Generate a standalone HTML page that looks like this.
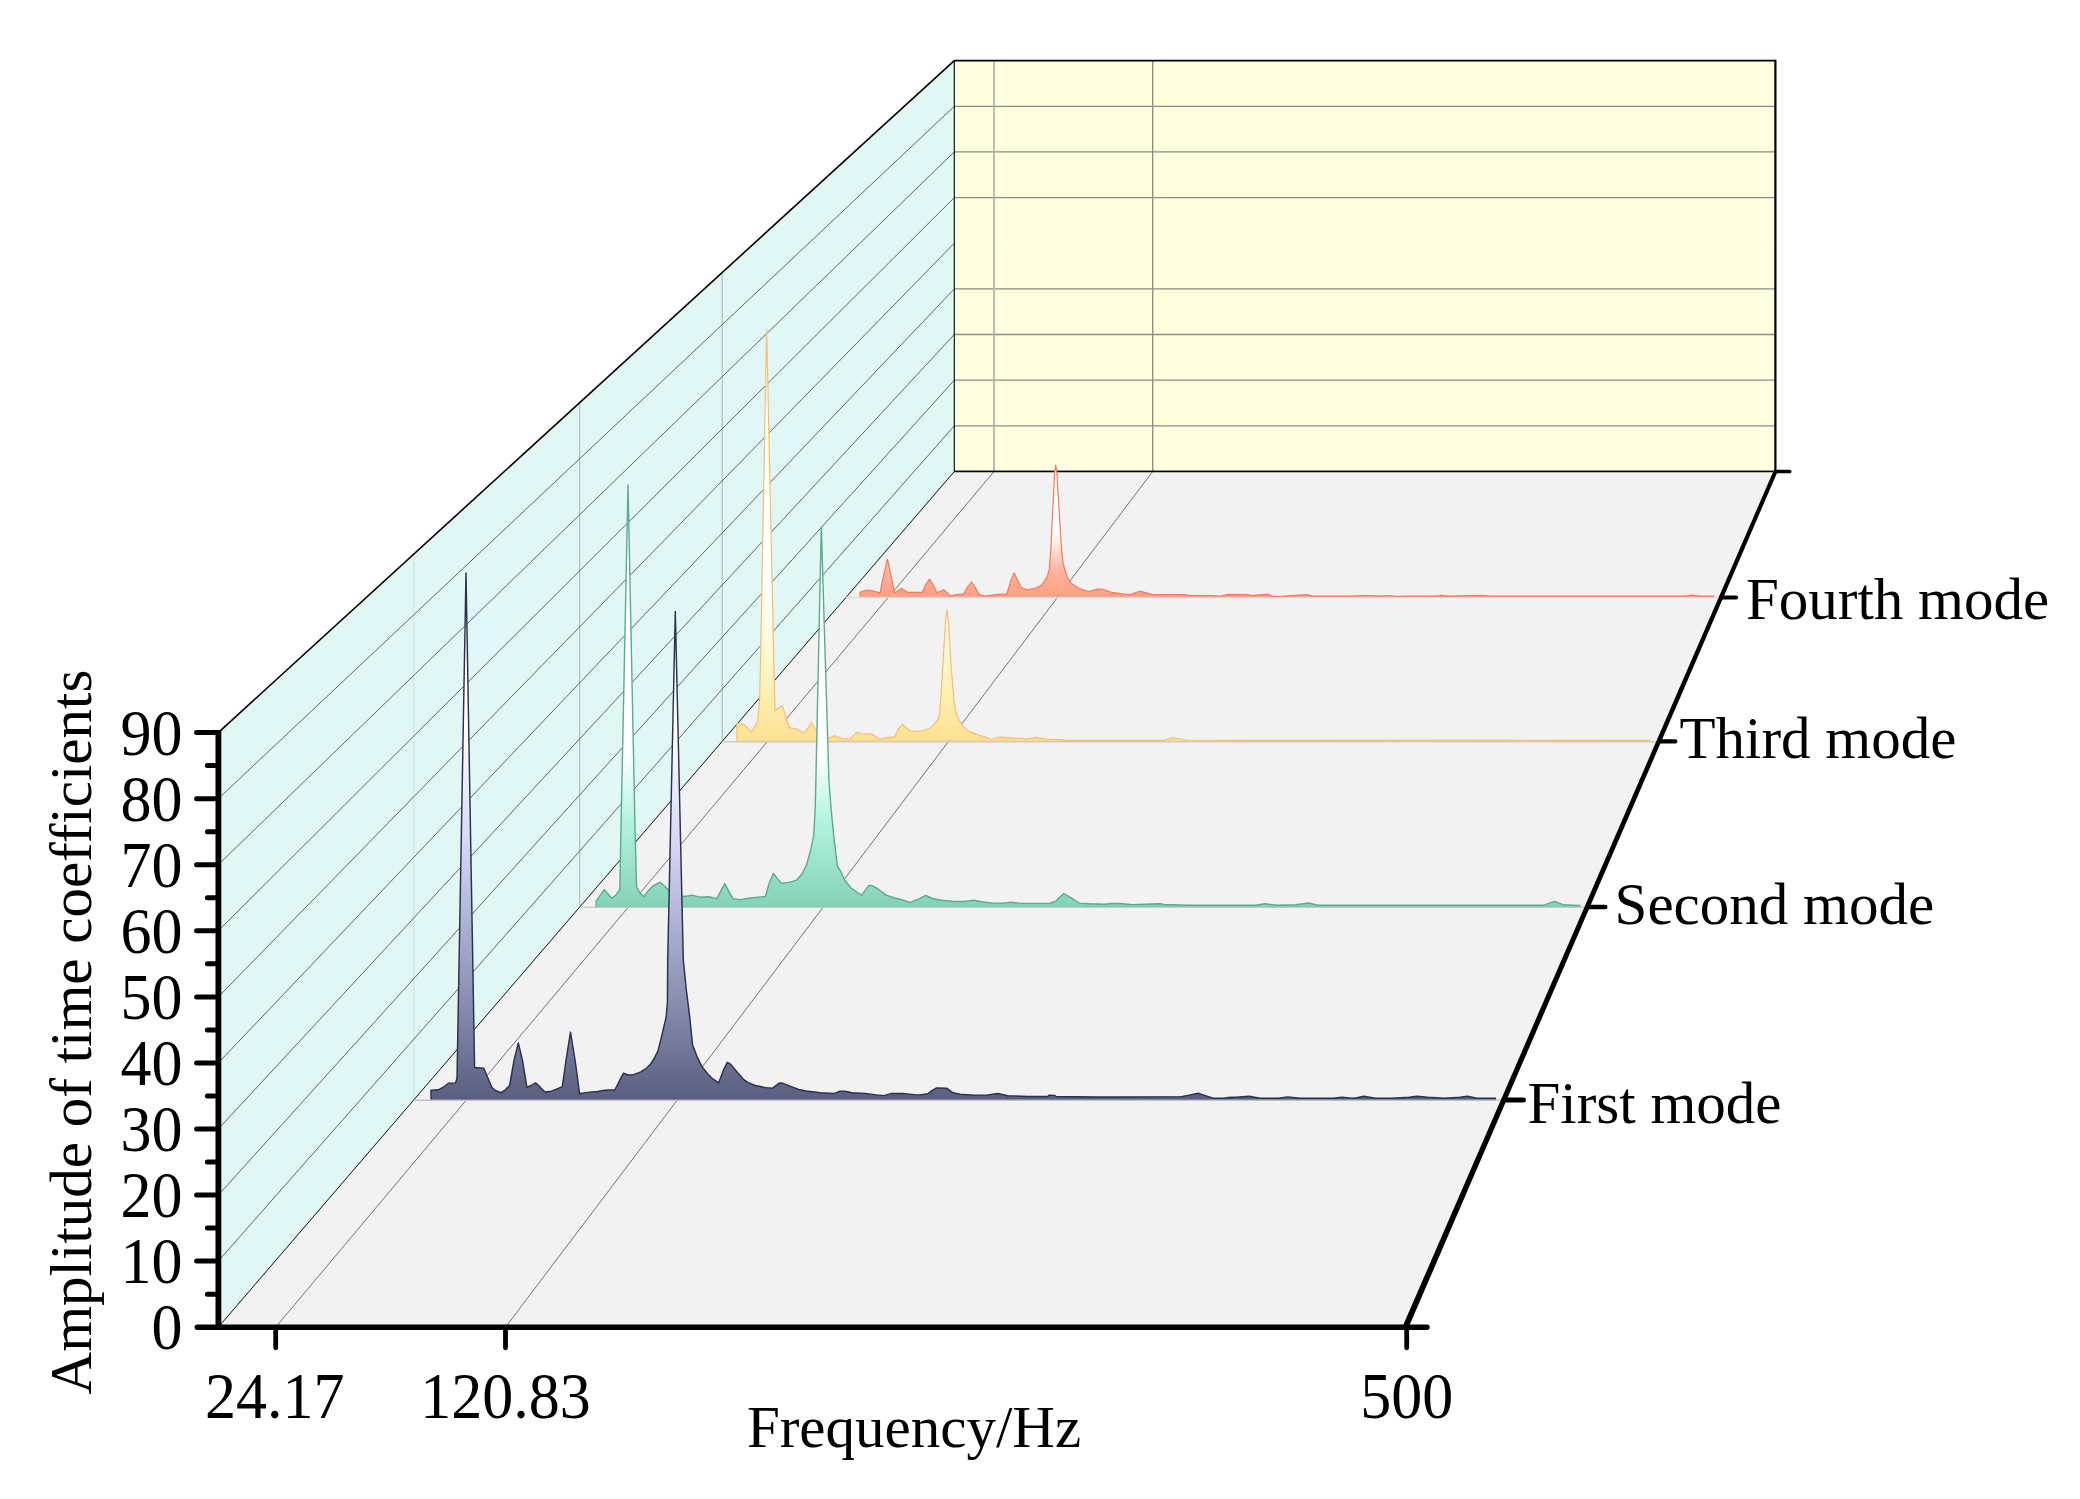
<!DOCTYPE html>
<html lang="en">
<head>
<meta charset="utf-8">
<title>Amplitude of time coefficients - waterfall</title>
<style>html,body{margin:0;padding:0;background:#fff;}svg{display:block;}</style>
</head>
<body>
<svg width="2080" height="1499" viewBox="0 0 2080 1499">
<defs>
<linearGradient id="g1" x1="0" y1="1" x2="0" y2="0">
<stop offset="0" stop-color="#5a5e7f"/>
<stop offset="0.27" stop-color="#9ea2c3"/>
<stop offset="0.5" stop-color="#d8daf7"/>
<stop offset="0.7" stop-color="#ffffff"/>
<stop offset="1" stop-color="#ffffff"/>
</linearGradient>
<linearGradient id="g2" x1="0" y1="1" x2="0" y2="0">
<stop offset="0" stop-color="#84d2b6"/>
<stop offset="0.2" stop-color="#b2f3df"/>
<stop offset="0.36" stop-color="#ffffff"/>
<stop offset="1" stop-color="#ffffff"/>
</linearGradient>
<linearGradient id="g3" x1="0" y1="1" x2="0" y2="0">
<stop offset="0" stop-color="#fde194"/>
<stop offset="0.12" stop-color="#fff0b2"/>
<stop offset="0.25" stop-color="#fffae2"/>
<stop offset="0.4" stop-color="#ffffff"/>
<stop offset="1" stop-color="#ffffff"/>
</linearGradient>
<linearGradient id="g4" x1="0" y1="1" x2="0" y2="0">
<stop offset="0" stop-color="#fd9f84"/>
<stop offset="0.2" stop-color="#fdb4a0"/>
<stop offset="0.36" stop-color="#fee0d6"/>
<stop offset="0.48" stop-color="#ffffff"/>
<stop offset="1" stop-color="#ffffff"/>
</linearGradient>
</defs>
<rect width="2080" height="1499" fill="#ffffff"/>
<polygon points="954.3,60.6 1775.4,60.6 1775.4,471.5 954.3,471.5" fill="#ffffe0"/>
<line x1="954.3" y1="425.8" x2="1775.4" y2="425.8" stroke="#8c8c82" stroke-width="1.3"/>
<line x1="954.3" y1="380.2" x2="1775.4" y2="380.2" stroke="#8c8c82" stroke-width="1.3"/>
<line x1="954.3" y1="334.5" x2="1775.4" y2="334.5" stroke="#8c8c82" stroke-width="1.3"/>
<line x1="954.3" y1="288.9" x2="1775.4" y2="288.9" stroke="#8c8c82" stroke-width="1.3"/>
<line x1="954.3" y1="243.2" x2="1775.4" y2="243.2" stroke="#fafae4" stroke-width="1.3"/>
<line x1="954.3" y1="197.6" x2="1775.4" y2="197.6" stroke="#8c8c82" stroke-width="1.3"/>
<line x1="954.3" y1="151.9" x2="1775.4" y2="151.9" stroke="#8c8c82" stroke-width="1.3"/>
<line x1="954.3" y1="106.3" x2="1775.4" y2="106.3" stroke="#8c8c82" stroke-width="1.3"/>
<line x1="994.0" y1="471.5" x2="994.0" y2="60.6" stroke="#b4b4aa" stroke-width="1.8"/>
<line x1="1152.7" y1="471.5" x2="1152.7" y2="60.6" stroke="#909088" stroke-width="1.4"/>
<line x1="954.3" y1="60.6" x2="1775.4" y2="60.6" stroke="#000" stroke-width="1.6"/>
<line x1="954.3" y1="471.5" x2="1775.4" y2="471.5" stroke="#000" stroke-width="1.4"/>
<line x1="1775.4" y1="59.8" x2="1775.4" y2="471.5" stroke="#000" stroke-width="2.2"/>
<polygon points="218.3,1327.2 218.3,732.6 954.3,60.6 954.3,471.5" fill="#e1f7f5"/>
<line x1="413.8" y1="1099.9" x2="413.8" y2="554.1" stroke="#cde2e2" stroke-width="1.1"/>
<line x1="579.7" y1="907.0" x2="579.7" y2="402.6" stroke="#a9bcbc" stroke-width="1.1"/>
<line x1="722.2" y1="741.4" x2="722.2" y2="272.6" stroke="#a9bcbc" stroke-width="1.1"/>
<line x1="218.3" y1="1261.1" x2="954.3" y2="425.8" stroke="#4e5858" stroke-width="0.9"/>
<line x1="218.3" y1="1195.1" x2="954.3" y2="380.2" stroke="#4e5858" stroke-width="0.9"/>
<line x1="218.3" y1="1129.0" x2="954.3" y2="334.5" stroke="#4e5858" stroke-width="0.9"/>
<line x1="218.3" y1="1062.9" x2="954.3" y2="288.9" stroke="#4e5858" stroke-width="0.9"/>
<line x1="218.3" y1="996.9" x2="954.3" y2="243.2" stroke="#4e5858" stroke-width="0.9"/>
<line x1="218.3" y1="930.8" x2="954.3" y2="197.6" stroke="#4e5858" stroke-width="0.9"/>
<line x1="218.3" y1="864.7" x2="954.3" y2="151.9" stroke="#4e5858" stroke-width="0.9"/>
<line x1="218.3" y1="798.7" x2="954.3" y2="106.3" stroke="#4e5858" stroke-width="0.9"/>
<line x1="218.3" y1="732.6" x2="954.3" y2="60.6" stroke="#000" stroke-width="1.6"/>
<line x1="954.3" y1="60.6" x2="954.3" y2="471.5" stroke="#000" stroke-width="1.1"/>
<polygon points="218.3,1327.2 954.3,471.5 1775.4,471.5 1406.7,1327.2" fill="#f2f2f2"/>
<line x1="218.3" y1="1327.2" x2="954.3" y2="471.5" stroke="#000" stroke-width="0.95"/>
<line x1="275.7" y1="1327.2" x2="994.0" y2="471.5" stroke="#646464" stroke-width="0.9"/>
<line x1="505.5" y1="1327.2" x2="1152.7" y2="471.5" stroke="#646464" stroke-width="0.9"/>
<line x1="954.3" y1="471.5" x2="1775.4" y2="471.5" stroke="#000" stroke-width="1.4"/>
<line x1="845.9" y1="597.5" x2="1721.1" y2="597.5" stroke="#e6dfdf" stroke-width="1.4"/>
<polygon points="860.0,596.6 860.0,592.3 866.9,590.0 874.6,591.2 880.0,593.1 883.1,577.7 887.4,559.2 891.5,577.7 894.6,593.1 901.5,588.5 907.7,592.3 922.3,592.3 926.2,583.8 929.7,579.2 933.4,585.4 936.9,592.8 943.8,589.7 950.8,596.2 956.2,594.6 963.8,593.8 967.7,586.9 971.5,582.0 975.4,587.7 979.2,594.6 985.4,596.2 996.2,594.6 1006.9,593.8 1010.8,580.8 1014.2,573.1 1018.5,582.3 1021.5,587.7 1027.7,589.7 1034.6,588.5 1041.5,585.4 1046.9,577.7 1049.2,570.0 1050.8,550.0 1053.1,503.8 1054.6,473.1 1055.7,465.1 1056.9,473.1 1059.2,511.5 1061.5,550.0 1063.1,563.8 1066.9,576.2 1071.5,583.8 1079.2,588.5 1088.5,591.5 1097.7,589.2 1102.3,589.2 1111.5,592.3 1122.3,593.8 1130.0,594.6 1140.0,591.2 1151.5,594.3 1185.4,594.6 1189.2,595.7 1210.0,595.7 1220.8,596.2 1228.5,594.3 1246.9,594.6 1253.1,595.7 1260.8,594.6 1268.5,594.3 1272.3,596.5 1283.8,596.2 1291.5,595.7 1306.9,594.6 1313.1,596.2 1353.1,596.2 1357.7,595.5 1370.0,595.5 1379.2,596.2 1390.0,595.5 1397.7,596.5 1403.8,596.2 1434.6,596.2 1440.8,595.5 1450.0,596.2 1440.0,595.4 1448.5,596.2 1480.8,595.4 1491.5,596.2 1683.8,596.2 1691.5,595.2 1700.8,596.2 1713.8,596.2 1713.8,596.6" fill="url(#g4)"/>
<polyline points="860.0,596.6 860.0,592.3 866.9,590.0 874.6,591.2 880.0,593.1 883.1,577.7 887.4,559.2 891.5,577.7 894.6,593.1 901.5,588.5 907.7,592.3 922.3,592.3 926.2,583.8 929.7,579.2 933.4,585.4 936.9,592.8 943.8,589.7 950.8,596.2 956.2,594.6 963.8,593.8 967.7,586.9 971.5,582.0 975.4,587.7 979.2,594.6 985.4,596.2 996.2,594.6 1006.9,593.8 1010.8,580.8 1014.2,573.1 1018.5,582.3 1021.5,587.7 1027.7,589.7 1034.6,588.5 1041.5,585.4 1046.9,577.7 1049.2,570.0 1050.8,550.0 1053.1,503.8 1054.6,473.1 1055.7,465.1 1056.9,473.1 1059.2,511.5 1061.5,550.0 1063.1,563.8 1066.9,576.2 1071.5,583.8 1079.2,588.5 1088.5,591.5 1097.7,589.2 1102.3,589.2 1111.5,592.3 1122.3,593.8 1130.0,594.6 1140.0,591.2 1151.5,594.3 1185.4,594.6 1189.2,595.7 1210.0,595.7 1220.8,596.2 1228.5,594.3 1246.9,594.6 1253.1,595.7 1260.8,594.6 1268.5,594.3 1272.3,596.5 1283.8,596.2 1291.5,595.7 1306.9,594.6 1313.1,596.2 1353.1,596.2 1357.7,595.5 1370.0,595.5 1379.2,596.2 1390.0,595.5 1397.7,596.5 1403.8,596.2 1434.6,596.2 1440.8,595.5 1450.0,596.2 1440.0,595.4 1448.5,596.2 1480.8,595.4 1491.5,596.2 1683.8,596.2 1691.5,595.2 1700.8,596.2 1713.8,596.2 1713.8,596.6" fill="none" stroke="#f7775a" stroke-width="1.2" stroke-linejoin="round"/>
<line x1="860.0" y1="596.6" x2="1713.8" y2="596.6" stroke="#f7775a" stroke-width="0.8" stroke-opacity="0.55"/>
<line x1="722.2" y1="741.7" x2="1659.1" y2="741.7" stroke="#d0ccc4" stroke-width="1.4"/>
<polygon points="736.9,740.8 736.9,723.1 744.6,724.9 751.5,732.3 757.7,721.5 759.7,698.5 760.8,646.2 766.6,329.5 773.5,646.2 774.9,710.8 782.3,705.4 789.2,727.7 796.9,729.2 804.6,733.1 811.5,722.6 816.2,730.8 821.5,736.9 827.7,738.5 834.6,735.7 843.1,738.9 850.0,739.2 856.9,732.3 863.1,734.2 872.3,734.2 879.2,739.2 886.9,737.7 894.6,736.9 898.5,729.2 902.3,724.3 909.2,730.5 915.4,731.5 923.1,730.8 930.8,727.7 935.4,723.1 939.2,716.9 940.8,700.0 943.1,661.5 945.4,623.1 946.9,609.5 948.5,623.1 950.8,661.5 953.8,700.0 956.2,713.8 961.5,724.6 967.7,730.8 976.9,734.6 984.6,736.9 990.8,739.5 998.5,737.2 1007.7,737.7 1020.0,738.5 1020.0,738.2 1026.2,739.2 1036.2,737.4 1044.6,739.2 1061.5,739.7 1064.6,740.3 1164.6,740.3 1171.5,737.7 1186.2,740.0 1261.5,740.3 1320.0,740.3 1500.0,740.2 1650.0,740.4 1650.0,740.8" fill="url(#g3)"/>
<polyline points="736.9,740.8 736.9,723.1 744.6,724.9 751.5,732.3 757.7,721.5 759.7,698.5 760.8,646.2 766.6,329.5 773.5,646.2 774.9,710.8 782.3,705.4 789.2,727.7 796.9,729.2 804.6,733.1 811.5,722.6 816.2,730.8 821.5,736.9 827.7,738.5 834.6,735.7 843.1,738.9 850.0,739.2 856.9,732.3 863.1,734.2 872.3,734.2 879.2,739.2 886.9,737.7 894.6,736.9 898.5,729.2 902.3,724.3 909.2,730.5 915.4,731.5 923.1,730.8 930.8,727.7 935.4,723.1 939.2,716.9 940.8,700.0 943.1,661.5 945.4,623.1 946.9,609.5 948.5,623.1 950.8,661.5 953.8,700.0 956.2,713.8 961.5,724.6 967.7,730.8 976.9,734.6 984.6,736.9 990.8,739.5 998.5,737.2 1007.7,737.7 1020.0,738.5 1020.0,738.2 1026.2,739.2 1036.2,737.4 1044.6,739.2 1061.5,739.7 1064.6,740.3 1164.6,740.3 1171.5,737.7 1186.2,740.0 1261.5,740.3 1320.0,740.3 1500.0,740.2 1650.0,740.4 1650.0,740.8" fill="none" stroke="#f5be6e" stroke-width="1.2" stroke-linejoin="round"/>
<line x1="736.9" y1="740.8" x2="1650.0" y2="740.8" stroke="#f5be6e" stroke-width="0.8" stroke-opacity="0.55"/>
<line x1="579.7" y1="907.3" x2="1587.8" y2="907.3" stroke="#c4cccb" stroke-width="1.4"/>
<polygon points="596.2,906.4 596.2,901.2 604.3,889.6 611.8,898.3 616.2,894.7 619.8,889.6 620.5,852.1 628.0,485.0 635.2,837.7 636.6,886.7 639.2,891.8 643.8,896.8 647.9,891.1 652.9,886.0 660.1,882.4 665.2,886.7 669.5,891.1 676.7,895.4 684.7,896.5 691.9,895.1 699.8,897.1 708.5,896.8 717.1,898.6 720.7,891.1 724.8,883.6 728.7,891.1 733.0,898.6 740.2,899.7 750.3,898.0 765.4,896.5 769.0,883.8 773.4,873.5 777.0,878.1 781.3,883.1 789.2,882.4 796.4,880.2 802.2,873.8 806.5,865.1 810.9,849.2 813.8,834.8 815.2,808.8 815.9,780.0 821.3,527.0 828.9,780.0 831.1,808.8 833.9,837.7 837.5,866.5 840.0,870.0 844.6,880.0 850.8,887.7 861.5,895.4 868.5,885.8 871.5,885.4 878.5,889.2 886.2,895.1 893.8,897.7 901.5,899.7 910.0,902.3 918.5,899.2 925.8,895.4 932.3,898.5 941.5,900.3 953.8,901.5 964.6,901.5 973.8,900.3 981.5,901.8 992.3,903.1 1003.1,903.1 1010.8,902.3 1021.5,903.4 1049.2,903.4 1055.4,901.5 1060.0,896.9 1063.8,893.5 1070.8,897.7 1079.2,903.1 1089.2,903.8 1104.6,904.3 1110.8,903.5 1120.0,903.5 1132.3,904.6 1144.6,904.2 1160.0,903.8 1164.0,904.5 1188.1,905.2 1255.4,905.2 1265.0,903.8 1277.0,905.2 1296.2,904.7 1308.3,903.0 1317.9,905.2 1428.5,905.2 1543.8,905.2 1554.7,901.3 1563.1,904.7 1579.9,905.4 1579.9,906.4" fill="url(#g2)"/>
<polyline points="596.2,906.4 596.2,901.2 604.3,889.6 611.8,898.3 616.2,894.7 619.8,889.6 620.5,852.1 628.0,485.0 635.2,837.7 636.6,886.7 639.2,891.8 643.8,896.8 647.9,891.1 652.9,886.0 660.1,882.4 665.2,886.7 669.5,891.1 676.7,895.4 684.7,896.5 691.9,895.1 699.8,897.1 708.5,896.8 717.1,898.6 720.7,891.1 724.8,883.6 728.7,891.1 733.0,898.6 740.2,899.7 750.3,898.0 765.4,896.5 769.0,883.8 773.4,873.5 777.0,878.1 781.3,883.1 789.2,882.4 796.4,880.2 802.2,873.8 806.5,865.1 810.9,849.2 813.8,834.8 815.2,808.8 815.9,780.0 821.3,527.0 828.9,780.0 831.1,808.8 833.9,837.7 837.5,866.5 840.0,870.0 844.6,880.0 850.8,887.7 861.5,895.4 868.5,885.8 871.5,885.4 878.5,889.2 886.2,895.1 893.8,897.7 901.5,899.7 910.0,902.3 918.5,899.2 925.8,895.4 932.3,898.5 941.5,900.3 953.8,901.5 964.6,901.5 973.8,900.3 981.5,901.8 992.3,903.1 1003.1,903.1 1010.8,902.3 1021.5,903.4 1049.2,903.4 1055.4,901.5 1060.0,896.9 1063.8,893.5 1070.8,897.7 1079.2,903.1 1089.2,903.8 1104.6,904.3 1110.8,903.5 1120.0,903.5 1132.3,904.6 1144.6,904.2 1160.0,903.8 1164.0,904.5 1188.1,905.2 1255.4,905.2 1265.0,903.8 1277.0,905.2 1296.2,904.7 1308.3,903.0 1317.9,905.2 1428.5,905.2 1543.8,905.2 1554.7,901.3 1563.1,904.7 1579.9,905.4 1579.9,906.4" fill="none" stroke="#5caa90" stroke-width="1.4" stroke-linejoin="round"/>
<line x1="596.2" y1="906.4" x2="1579.9" y2="906.4" stroke="#5caa90" stroke-width="0.8" stroke-opacity="0.55"/>
<line x1="413.8" y1="1100.2" x2="1504.7" y2="1100.2" stroke="#c2c2c6" stroke-width="1.4"/>
<polygon points="431.0,1099.3 431.0,1090.2 438.2,1089.8 443.3,1087.2 448.3,1083.3 455.5,1082.9 457.0,1078.3 466.0,573.0 474.6,1067.5 483.7,1068.2 487.3,1076.8 491.6,1086.9 495.2,1090.5 501.0,1092.7 505.3,1089.8 509.6,1085.5 513.9,1061.0 518.3,1042.9 522.6,1061.0 526.9,1087.2 531.2,1085.5 535.6,1082.9 539.9,1086.9 545.0,1092.0 551.4,1091.2 557.2,1088.8 562.3,1086.6 565.9,1061.0 570.5,1032.1 575.2,1061.0 579.6,1093.8 587.5,1092.4 597.6,1091.5 604.8,1090.2 614.9,1089.8 619.2,1081.2 623.6,1073.2 627.9,1075.0 633.7,1074.7 640.9,1071.8 642.9,1070.3 645.8,1068.9 650.8,1063.8 655.1,1056.6 658.0,1050.9 661.6,1036.4 666.0,1017.7 667.4,1003.3 667.7,960.0 675.3,611.5 683.3,960.0 686.2,988.8 689.8,1017.7 692.6,1045.1 697.0,1056.6 702.0,1066.7 707.8,1073.9 712.1,1078.3 718.6,1082.9 723.7,1069.6 727.3,1062.4 730.1,1063.8 738.1,1073.2 743.8,1079.7 748.2,1082.6 755.4,1085.5 765.5,1087.6 772.7,1088.1 779.2,1083.0 782.8,1083.3 790.0,1086.2 798.7,1089.5 805.9,1091.0 820.3,1092.7 834.7,1093.4 839.8,1091.2 844.8,1091.2 852.0,1092.7 865.0,1093.4 876.5,1094.9 883.8,1095.6 891.7,1093.4 902.5,1093.4 914.0,1094.6 921.2,1094.9 920.0,1094.9 927.7,1093.8 931.5,1090.8 936.2,1088.0 946.9,1088.3 953.1,1092.8 960.0,1094.2 973.8,1095.1 987.7,1094.9 997.7,1093.5 1007.7,1095.7 1027.7,1096.5 1047.7,1096.5 1049.2,1095.1 1054.6,1095.4 1056.2,1096.5 1096.9,1096.9 1181.5,1096.6 1189.2,1095.1 1198.2,1093.2 1204.6,1095.4 1213.1,1098.2 1224.6,1098.2 1227.7,1097.4 1240.0,1096.9 1229.2,1097.8 1249.2,1096.3 1260.0,1098.2 1278.5,1098.2 1287.7,1096.9 1300.0,1098.2 1333.8,1098.2 1341.5,1097.1 1352.3,1098.2 1356.9,1097.8 1363.8,1096.3 1375.4,1098.2 1392.3,1098.2 1409.2,1097.2 1416.9,1096.3 1427.7,1097.2 1444.6,1098.2 1460.0,1097.2 1467.7,1096.3 1476.9,1098.2 1495.4,1098.3 1495.4,1099.3" fill="url(#g1)"/>
<polyline points="431.0,1099.3 431.0,1090.2 438.2,1089.8 443.3,1087.2 448.3,1083.3 455.5,1082.9 457.0,1078.3 466.0,573.0 474.6,1067.5 483.7,1068.2 487.3,1076.8 491.6,1086.9 495.2,1090.5 501.0,1092.7 505.3,1089.8 509.6,1085.5 513.9,1061.0 518.3,1042.9 522.6,1061.0 526.9,1087.2 531.2,1085.5 535.6,1082.9 539.9,1086.9 545.0,1092.0 551.4,1091.2 557.2,1088.8 562.3,1086.6 565.9,1061.0 570.5,1032.1 575.2,1061.0 579.6,1093.8 587.5,1092.4 597.6,1091.5 604.8,1090.2 614.9,1089.8 619.2,1081.2 623.6,1073.2 627.9,1075.0 633.7,1074.7 640.9,1071.8 642.9,1070.3 645.8,1068.9 650.8,1063.8 655.1,1056.6 658.0,1050.9 661.6,1036.4 666.0,1017.7 667.4,1003.3 667.7,960.0 675.3,611.5 683.3,960.0 686.2,988.8 689.8,1017.7 692.6,1045.1 697.0,1056.6 702.0,1066.7 707.8,1073.9 712.1,1078.3 718.6,1082.9 723.7,1069.6 727.3,1062.4 730.1,1063.8 738.1,1073.2 743.8,1079.7 748.2,1082.6 755.4,1085.5 765.5,1087.6 772.7,1088.1 779.2,1083.0 782.8,1083.3 790.0,1086.2 798.7,1089.5 805.9,1091.0 820.3,1092.7 834.7,1093.4 839.8,1091.2 844.8,1091.2 852.0,1092.7 865.0,1093.4 876.5,1094.9 883.8,1095.6 891.7,1093.4 902.5,1093.4 914.0,1094.6 921.2,1094.9 920.0,1094.9 927.7,1093.8 931.5,1090.8 936.2,1088.0 946.9,1088.3 953.1,1092.8 960.0,1094.2 973.8,1095.1 987.7,1094.9 997.7,1093.5 1007.7,1095.7 1027.7,1096.5 1047.7,1096.5 1049.2,1095.1 1054.6,1095.4 1056.2,1096.5 1096.9,1096.9 1181.5,1096.6 1189.2,1095.1 1198.2,1093.2 1204.6,1095.4 1213.1,1098.2 1224.6,1098.2 1227.7,1097.4 1240.0,1096.9 1229.2,1097.8 1249.2,1096.3 1260.0,1098.2 1278.5,1098.2 1287.7,1096.9 1300.0,1098.2 1333.8,1098.2 1341.5,1097.1 1352.3,1098.2 1356.9,1097.8 1363.8,1096.3 1375.4,1098.2 1392.3,1098.2 1409.2,1097.2 1416.9,1096.3 1427.7,1097.2 1444.6,1098.2 1460.0,1097.2 1467.7,1096.3 1476.9,1098.2 1495.4,1098.3 1495.4,1099.3" fill="none" stroke="#2b3050" stroke-width="1.45" stroke-linejoin="round"/>
<line x1="431.0" y1="1099.3" x2="1495.4" y2="1099.3" stroke="#2b3050" stroke-width="0.8" stroke-opacity="0.55"/>
<line x1="218.4" y1="730.4" x2="218.4" y2="1329.9" stroke="#000" stroke-width="5.8"/>
<line x1="207.4" y1="1294.2" x2="218.3" y2="1294.2" stroke="#000" stroke-width="5.0" stroke-linecap="round"/>
<line x1="196.6" y1="1261.1" x2="218.3" y2="1261.1" stroke="#000" stroke-width="5.0" stroke-linecap="round"/>
<line x1="207.4" y1="1228.1" x2="218.3" y2="1228.1" stroke="#000" stroke-width="5.0" stroke-linecap="round"/>
<line x1="196.6" y1="1195.1" x2="218.3" y2="1195.1" stroke="#000" stroke-width="5.0" stroke-linecap="round"/>
<line x1="207.4" y1="1162.0" x2="218.3" y2="1162.0" stroke="#000" stroke-width="5.0" stroke-linecap="round"/>
<line x1="196.6" y1="1129.0" x2="218.3" y2="1129.0" stroke="#000" stroke-width="5.0" stroke-linecap="round"/>
<line x1="207.4" y1="1096.0" x2="218.3" y2="1096.0" stroke="#000" stroke-width="5.0" stroke-linecap="round"/>
<line x1="196.6" y1="1062.9" x2="218.3" y2="1062.9" stroke="#000" stroke-width="5.0" stroke-linecap="round"/>
<line x1="207.4" y1="1029.9" x2="218.3" y2="1029.9" stroke="#000" stroke-width="5.0" stroke-linecap="round"/>
<line x1="196.6" y1="996.9" x2="218.3" y2="996.9" stroke="#000" stroke-width="5.0" stroke-linecap="round"/>
<line x1="207.4" y1="963.8" x2="218.3" y2="963.8" stroke="#000" stroke-width="5.0" stroke-linecap="round"/>
<line x1="196.6" y1="930.8" x2="218.3" y2="930.8" stroke="#000" stroke-width="5.0" stroke-linecap="round"/>
<line x1="207.4" y1="897.8" x2="218.3" y2="897.8" stroke="#000" stroke-width="5.0" stroke-linecap="round"/>
<line x1="196.6" y1="864.7" x2="218.3" y2="864.7" stroke="#000" stroke-width="5.0" stroke-linecap="round"/>
<line x1="207.4" y1="831.7" x2="218.3" y2="831.7" stroke="#000" stroke-width="5.0" stroke-linecap="round"/>
<line x1="196.6" y1="798.7" x2="218.3" y2="798.7" stroke="#000" stroke-width="5.0" stroke-linecap="round"/>
<line x1="207.4" y1="765.6" x2="218.3" y2="765.6" stroke="#000" stroke-width="5.0" stroke-linecap="round"/>
<line x1="196.6" y1="732.6" x2="218.3" y2="732.6" stroke="#000" stroke-width="5.0" stroke-linecap="round"/>
<line x1="197.3" y1="1327.2" x2="1427.0" y2="1327.2" stroke="#000" stroke-width="5.4" stroke-linecap="round"/>
<line x1="275.7" y1="1327.2" x2="275.7" y2="1347.8" stroke="#000" stroke-width="4.8" stroke-linecap="round"/>
<line x1="505.5" y1="1327.2" x2="505.5" y2="1347.8" stroke="#000" stroke-width="4.8" stroke-linecap="round"/>
<line x1="1406.7" y1="1327.2" x2="1406.7" y2="1347.8" stroke="#000" stroke-width="4.8" stroke-linecap="round"/>
<polygon points="1408.2,1328.3 1777.3,472.3 1773.6,470.7 1402.8,1326.1" fill="#000"/>
<line x1="1504.7" y1="1099.9" x2="1523.5" y2="1099.9" stroke="#000" stroke-width="5.0" stroke-linecap="round"/>
<line x1="1587.8" y1="907.0" x2="1605.2" y2="907.0" stroke="#000" stroke-width="4.6" stroke-linecap="round"/>
<line x1="1659.1" y1="741.4" x2="1675.3" y2="741.4" stroke="#000" stroke-width="4.3" stroke-linecap="round"/>
<line x1="1721.1" y1="597.5" x2="1736.2" y2="597.5" stroke="#000" stroke-width="4.0" stroke-linecap="round"/>
<line x1="1775.4" y1="471.5" x2="1789.6" y2="471.5" stroke="#000" stroke-width="3.7" stroke-linecap="round"/>
<text transform="translate(182.5,1349.2) scale(1,1.06)" font-size="62" text-anchor="end" font-family="'Liberation Serif',serif" style="font-variant-ligatures:none" fill="#000">0</text>
<text transform="translate(182.5,1283.1) scale(1,1.06)" font-size="62" text-anchor="end" font-family="'Liberation Serif',serif" style="font-variant-ligatures:none" fill="#000">10</text>
<text transform="translate(182.5,1217.1) scale(1,1.06)" font-size="62" text-anchor="end" font-family="'Liberation Serif',serif" style="font-variant-ligatures:none" fill="#000">20</text>
<text transform="translate(182.5,1151.0) scale(1,1.06)" font-size="62" text-anchor="end" font-family="'Liberation Serif',serif" style="font-variant-ligatures:none" fill="#000">30</text>
<text transform="translate(182.5,1084.9) scale(1,1.06)" font-size="62" text-anchor="end" font-family="'Liberation Serif',serif" style="font-variant-ligatures:none" fill="#000">40</text>
<text transform="translate(182.5,1018.9) scale(1,1.06)" font-size="62" text-anchor="end" font-family="'Liberation Serif',serif" style="font-variant-ligatures:none" fill="#000">50</text>
<text transform="translate(182.5,952.8) scale(1,1.06)" font-size="62" text-anchor="end" font-family="'Liberation Serif',serif" style="font-variant-ligatures:none" fill="#000">60</text>
<text transform="translate(182.5,886.7) scale(1,1.06)" font-size="62" text-anchor="end" font-family="'Liberation Serif',serif" style="font-variant-ligatures:none" fill="#000">70</text>
<text transform="translate(182.5,820.7) scale(1,1.06)" font-size="62" text-anchor="end" font-family="'Liberation Serif',serif" style="font-variant-ligatures:none" fill="#000">80</text>
<text transform="translate(182.5,754.6) scale(1,1.06)" font-size="62" text-anchor="end" font-family="'Liberation Serif',serif" style="font-variant-ligatures:none" fill="#000">90</text>
<text transform="translate(274.8,1418.4) scale(1,1.06)" font-size="62" text-anchor="middle" font-family="'Liberation Serif',serif" style="font-variant-ligatures:none" fill="#000">24.17</text>
<text transform="translate(505.5,1418.4) scale(1,1.06)" font-size="62" text-anchor="middle" font-family="'Liberation Serif',serif" style="font-variant-ligatures:none" fill="#000">120.83</text>
<text transform="translate(1406.7,1418.4) scale(1,1.06)" font-size="62" text-anchor="middle" font-family="'Liberation Serif',serif" style="font-variant-ligatures:none" fill="#000">500</text>
<text transform="translate(914.0,1447.0) scale(1,1.0)" font-size="59" text-anchor="middle" font-family="'Liberation Serif',serif" style="font-variant-ligatures:none" fill="#000">Frequency/Hz</text>
<text transform="translate(1527.5,1122.9) scale(1,1.0)" font-size="59" text-anchor="start" font-family="'Liberation Serif',serif" style="font-variant-ligatures:none" fill="#000">First mode</text>
<text transform="translate(1614.6,924.3) scale(1,1.0)" font-size="59" text-anchor="start" font-family="'Liberation Serif',serif" style="font-variant-ligatures:none" fill="#000">Second mode</text>
<text transform="translate(1679.5,758.2) scale(1,1.0)" font-size="59" text-anchor="start" font-family="'Liberation Serif',serif" style="font-variant-ligatures:none" fill="#000">Third mode</text>
<text transform="translate(1746.0,618.9) scale(1,1.0)" font-size="59" text-anchor="start" font-family="'Liberation Serif',serif" style="font-variant-ligatures:none" fill="#000">Fourth mode</text>
<text transform="translate(90.7,1032) rotate(-90)" font-size="59" text-anchor="middle" font-family="'Liberation Serif',serif" style="font-variant-ligatures:none" fill="#000">Amplitude of time coefficients</text>
</svg>
</body>
</html>
